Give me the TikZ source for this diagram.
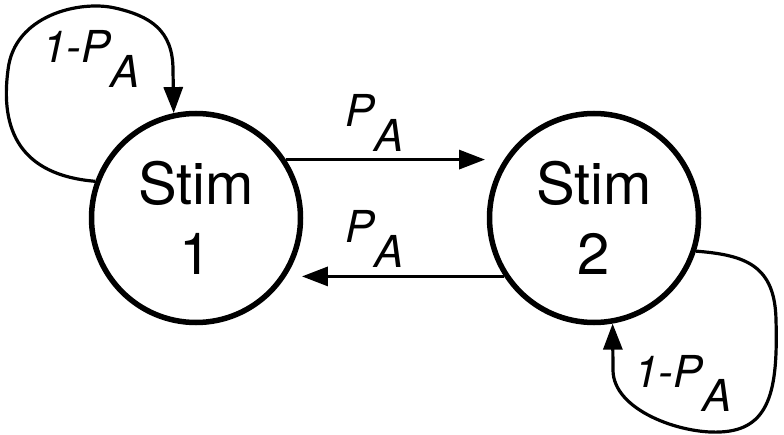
\documentclass[tikz,border=0pt]{standalone}
\usepackage{fontspec}
\setmainfont{TeX Gyre Heros}
\usetikzlibrary{arrows.meta}
\newcommand{\pa}{P\raisebox{-0.56em}{A}}
\tikzset{stim/.style = {draw, circle, line width=5.5pt, minimum size=209pt, inner sep=0pt, align=center, font=\fontsize{58}{70}\selectfont},
         trans/.style = {line width=3.2pt, -{Triangle[length=26pt,width=19pt]}},
         prob/.style = {anchor=base west, inner sep=0pt, font=\fontsize{44}{50}\selectfont\itshape}}

\begin{document}
\begin{tikzpicture}[x=1pt,y=-1pt]
    \useasboundingbox (0,0) rectangle (784,435);
    \node[stim](stima)at(196,218){Stim\\1};
    \node[stim](stimb)at(594,218){Stim\\2};

    \draw[trans,shorten >=19pt](stima.33)--(stimb.147);
    \draw[trans,shorten >=16pt](stimb.213)--(stima.327);
    \node[prob](pab)at(345,127){\pa};
    \node[prob](pba)at(345,243){\pa};

    \draw[trans](stima.160) .. controls (20,175) and (0,130) .. (8,70) .. controls (14,15) and (80,0) .. (115,8) .. controls (150,16) and (173,30) .. (173,70) -- (stima.102);
    \draw[trans](stimb.-18) .. controls (745,255) and (775,265) .. (776,320) .. controls (778,390) and (770,430) .. (720,432) .. controls (680,434) and (613,410) .. (613,370) -- (stimb.-80);
    \node[prob](paa)at(42,63){1-\pa};
    \node[prob](pbb)at(634,387){1-\pa};
\end{tikzpicture}
\end{document}
